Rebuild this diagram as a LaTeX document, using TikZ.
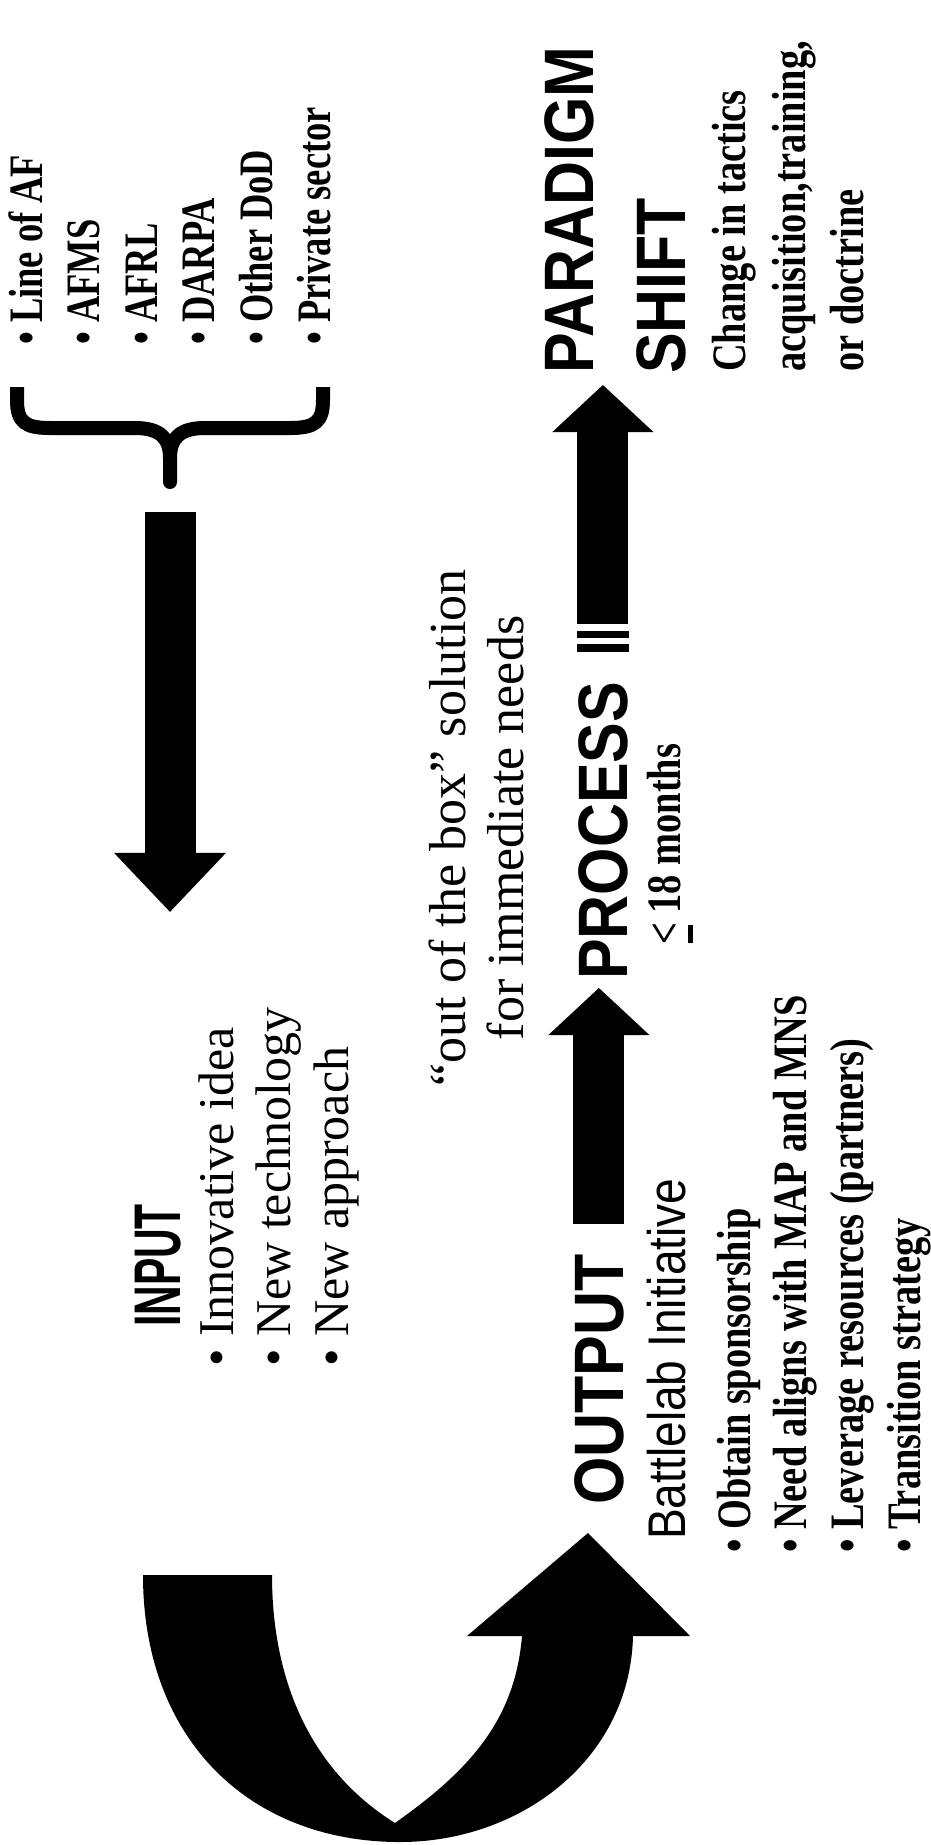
\documentclass[tikz,border=0pt]{standalone}
\usepackage{fontspec}
\setmainfont{Liberation Serif}
\setsansfont{Liberation Sans}
\newfontfamily\headsans[FakeStretch=0.87]{Liberation Sans}
\newfontfamily\inputsans[FakeStretch=0.62]{Liberation Sans}
\newfontfamily\boldserif[FakeStretch=0.8]{Liberation Serif}
\newfontfamily\srcserif[FakeStretch=0.76]{Liberation Serif}
\usetikzlibrary{arrows.meta,calc}
\newcommand{\headfont}{\fontsize{70}{80}\selectfont\headsans\bfseries}
\newcommand{\inputfont}{\fontsize{66}{76}\selectfont\inputsans\bfseries}
\newcommand{\initfont}{\fontsize{53}{60}\selectfont\headsans}
\newcommand{\listfont}{\fontsize{48}{57}\selectfont\boldserif\bfseries}
\newcommand{\srcfont}{\fontsize{48}{57}\selectfont\srcserif\bfseries}
\newcommand{\plainfont}{\fontsize{50}{57}\selectfont}
\newcommand{\boxfont}{\fontsize{52}{60}\selectfont}

\begin{document}
\begin{tikzpicture}[x=1pt,y=-1pt,
  upword/.style={rotate=90,anchor=base west,inner sep=0pt},
  headline/.style={upword,font=\headfont},
  blockarrow/.style={line width=51pt,-{Triangle[length=47pt 0,width=101pt 0,line width=0pt 0]}}]
\useasboundingbox (0,0) rectangle (931,1845);
\fill[white] (0,0) rectangle (931,1845);
% Top: sources and brace
\foreach \srcname [count=\i from 0] in {Line of AF,AFMS,AFRL,DARPA,Other DoD,Private sector}
  \node[upword,font=\srcfont] (src\i) at (42+57.6*\i,345) {\textbullet\ \srcname};
\coordinate (bracetip) at (170,482);
\draw[line width=14pt,line join=round] (17,387) -- (17,400) .. controls (17,422) and (25,428) .. (50,428) -- (135,428) .. controls (160,428) and (170,438) .. (170,458) -- (bracetip) -- (170,458) .. controls (170,438) and (180,428) .. (205,428) -- (290,428) .. controls (315,428) and (323,422) .. (323,400) -- (323,387);
% Input
\node[upword,font=\inputfont] (input) at (180,1327) {INPUT};
\foreach \idea [count=\i from 0] in {Innovative idea,New technology,New approach}
  \node[upword,font=\plainfont] (idea\i) at (233+57.5*\i,1367) {\textbullet\ \idea};
\draw[line width=51pt,-{Triangle[length=59pt 0,width=112pt 0,line width=0pt 0]},shorten <=30pt,shorten >=292pt] (bracetip) -- (bracetip |- input.east);
% Middle remark
\node[rotate=90,anchor=base,inner sep=0pt,font=\boxfont] (box1) at (465,828) {“out of the box” solution};
\node[rotate=90,anchor=base,inner sep=0pt,font=\boxfont] (box2) at (523,828) {for immediate needs};
% Output
\node[headline] (output) at (623,1505) {OUTPUT};
\node[upword,font=\initfont] (battlelab) at (685,1540) {Battlelab Initiative};
\foreach \act [count=\i from 0] in {Obtain sponsorship,Need aligns with MAP and MNS,Leverage resources (partners),Transition strategy}
  \node[upword,font=\listfont] (act\i) at (750+56.7*\i,1553) {\textbullet\ \act};
% Process
\node[headline] (process) at (627,980) {PROCESS};
\node[upword,font=\listfont] (months) at (680,945) {\makebox[0pt][l]{\hspace{2pt}\rule[-13pt]{18pt}{5pt}}<~18 months};
\draw[blockarrow,shorten <=30pt,shorten >=8pt] (output.east) -- (output.east |- process.west);
% Paradigm shift
\node[headline] (paradigm) at (593,374) {PARADIGM};
\node[headline] (shift) at (685,374) {SHIFT};
\node[upword,font=\listfont] (change0) at (745,372) {Change in tactics};
\node[upword,font=\listfont] (change1) at (805,372) {acquisition,training,};
\node[upword,font=\listfont] (change2) at (863,372) {or doctrine};
\fill ($(process.east)+(-26,-30)$) rectangle ++(52,-8);
\fill ($(process.east)+(-26,-44)$) rectangle ++(52,-7);
\draw[blockarrow,shorten <=58pt,shorten >=11pt] (process.east) -- (process.east |- paradigm.west);
% Curved arrow back to output
\fill (143,1575) -- (272,1575) .. controls (272,1680) and (310,1770) .. (395,1823) .. controls (470,1770) and (515,1720) .. (522,1636) -- (467,1636) -- (588,1533) -- (690,1636) -- (633,1636) .. controls (630,1760) and (520,1842) .. (400,1842) .. controls (250,1842) and (143,1740) .. (143,1575) -- cycle;
\end{tikzpicture}
\end{document}
